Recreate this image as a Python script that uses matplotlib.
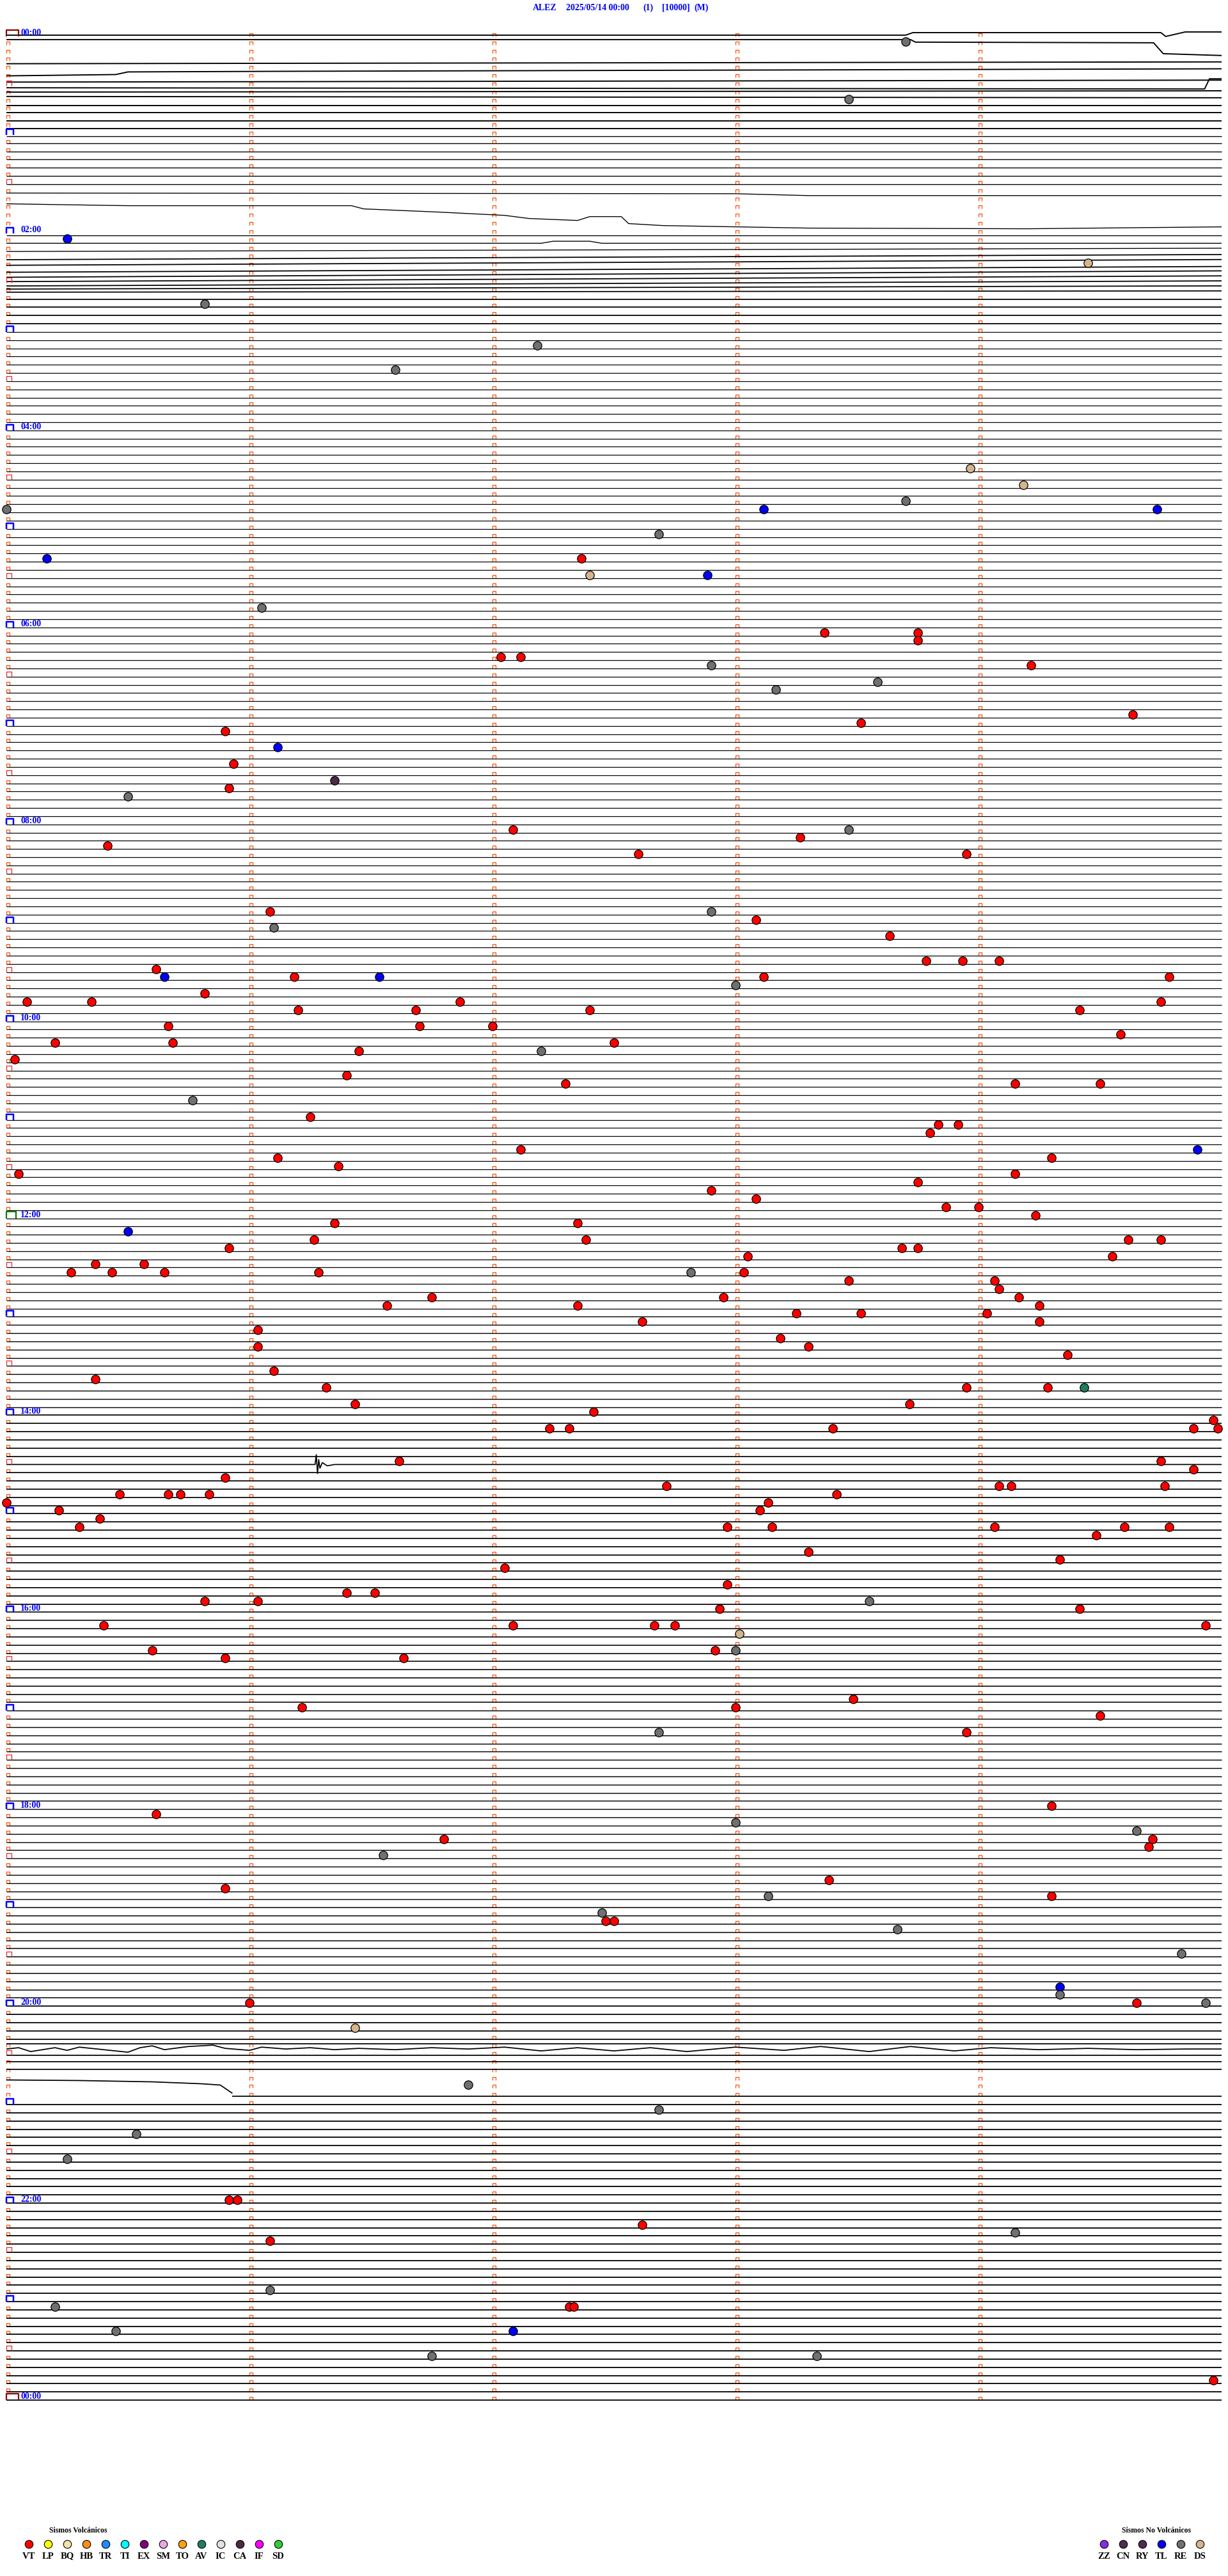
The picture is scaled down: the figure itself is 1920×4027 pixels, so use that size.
import matplotlib
matplotlib.use("Agg")
import matplotlib.pyplot as plt
from matplotlib.collections import LineCollection

# ---- chart data ----
station = "ALEZ"
start_label = "2025/05/14 00:00"
channel = "(1)"
scale = "[10000]"
comp = "(M)"

minutes_per_line = 5
n_lines = 289
hour_labels = ["00:00", "02:00", "04:00", "06:00", "08:00", "10:00", "12:00",
               "14:00", "16:00", "18:00", "20:00", "22:00", "00:00"]

# trace activity per hour (0 quiet .. 1 noisy)
hour_noise = [1.0, 0.45, 0.85, 0.3, 0.3, 0.3, 0.3, 0.3, 0.3, 0.3, 0.3, 0.3,
              0.35, 0.5, 0.8, 0.8, 0.7, 0.55, 0.5, 0.6, 0.85, 0.9, 0.9, 0.9, 0.9]

# trace drift (minute in line, offset in line spacings)
drift = {
    0: [(0, -0.16), (3.7, -0.16), (3.73, -0.47), (4.75, -0.47), (4.77, 0.0), (4.85, -0.55), (5, -0.55)],
    1: [(0, -0.62), (3.72, -0.62), (3.74, -0.31), (4.72, -0.23), (4.76, 1.1), (5, 1.32)],
    2: [(0, 1.32), (5, 1.1)],
    3: [(0, 1.8), (0.45, 1.64), (0.5, 1.32), (1.1, 1.25), (5, 0.94)],
    4: [(0, 1.56), (5, 1.32)],
    5: [(0, 1.25), (4.93, 1.4), (4.95, 0.16), (5, 0.16)],
    6: [(0, 0.78), (5, 0.62)],
    7: [(0, 0.31), (5, 0.47)],
    8: [(0, 0.39), (5, 0.39)],
    9: [(0, 0.31), (5, 0.31)],
    10: [(0, 0.31), (5, 0.31)],
    11: [(0, 0.23), (5, 0.23)],
    12: [(0, 0.16), (5, 0.16)],
    19: [(0, 0.08), (3.0, 0.16), (3.3, 0.39), (5, 0.39)],
    20: [(0, 0.39), (0.5, 0.62), (1.42, 0.62), (1.47, 1.01), (1.78, 1.4), (2.05, 1.8), (2.15, 2.18),
         (2.35, 2.42), (2.4, 1.95), (2.53, 1.95), (2.56, 2.8), (2.7, 3.04), (3.3, 3.35), (4.2, 3.43), (5, 3.2)],
    21: [(0, 3.27), (5, 3.27)],
    22: [(0, 3.2), (2.2, 3.2), (2.25, 2.95), (2.4, 2.95), (2.45, 3.2), (5, 3.2)],
    23: [(0, 3.2), (5, 2.8)],
    24: [(0, 3.2), (5, 2.57)],
    25: [(0, 2.88), (5, 2.18)],
    26: [(0, 2.73), (5, 2.03)],
    27: [(0, 2.34), (5, 1.56)],
    28: [(0, 1.87), (5, 1.17)],
    29: [(0, 1.4), (5, 0.78)],
    30: [(0, 0.78), (5, 0.39)],
    31: [(0, 0.16), (5, 0.0)],
    174: [(0, 0), (1.27, 0), (1.275, -1.2), (1.28, 1.1), (1.285, -0.6), (1.29, 0.45),
          (1.3, -0.23), (1.32, 0.16), (1.35, 0), (5, 0)],
    245: [(0, -0.39), (5, -0.39)],
    246: [(0, -0.78), (0.05, -0.94), (0.1, -0.47), (0.2, -0.94), (0.25, -0.62), (0.3, -1.01),
          (0.4, -0.7), (0.5, -0.39), (0.55, -0.94), (0.6, -1.17), (0.65, -0.7), (0.75, -1.09),
          (0.85, -1.25), (0.9, -0.86), (1.0, -0.62), (1.05, -1.01), (1.15, -0.78), (1.25, -0.94),
          (1.35, -0.7), (1.45, -0.86), (1.6, -0.7), (1.75, -0.94), (1.9, -0.78), (2.05, -1.01),
          (2.2, -0.55), (2.35, -0.94), (2.5, -0.55), (2.65, -0.94), (2.8, -0.47), (3.0, -1.01),
          (3.2, -0.62), (3.35, -1.09), (3.55, -0.47), (3.72, -1.09), (3.9, -0.55), (4.05, -0.94),
          (4.25, -0.7), (4.45, -0.86), (4.65, -0.7), (4.85, -0.78), (5, -0.78)],
    247: [(0, -1.01), (5, -1.01)],
    248: [(0, -1.25), (5, -1.25)],
    249: [(0, -1.32), (5, -1.32)],
    250: [(0, -1.01), (0.3, -0.94), (0.6, -0.78), (0.8, -0.55), (0.88, -0.39), (0.93, 0.62)],
    251: [(0.93, 0.0), (5, 0.0)],
}

# catalogued events: time, type
events = [
    ("00:08:42", "RE"), ("00:43:28", "RE"), ("02:05:15", "TL"), ("02:24:27", "DS"),
    ("02:45:49", "RE"), ("03:12:11", "RE"), ("03:26:36", "RE"), ("04:28:58", "DS"),
    ("04:39:11", "DS"), ("04:48:42", "RE"), ("04:50:00", "RE"), ("04:53:07", "TL"),
    ("04:54:44", "TL"), ("05:07:41", "RE"), ("05:20:10", "TL"), ("05:22:22", "VT"),
    ("05:32:24", "DS"), ("05:32:53", "TL"), ("05:51:03", "RE"), ("06:08:22", "VT"),
    ("06:08:45", "VT"), ("06:13:45", "VT"), ("06:22:02", "VT"), ("06:22:07", "VT"),
    ("06:27:54", "RE"), ("06:29:13", "VT"), ("06:38:35", "RE"), ("06:43:10", "RE"),
    ("06:59:38", "VT"), ("07:03:31", "VT"), ("07:05:54", "VT"), ("07:16:07", "TL"),
    ("07:25:56", "VT"), ("07:36:21", "CA"), ("07:40:55", "VT"), ("07:45:30", "RE"),
    ("08:07:05", "VT"), ("08:08:28", "RE"), ("08:13:16", "VT"), ("08:15:25", "VT"),
    ("08:22:36", "VT"), ("08:23:57", "VT"), ("08:57:54", "RE"), ("08:56:05", "VT"),
    ("09:03:05", "VT"), ("09:06:06", "RE"), ("09:13:38", "VT"), ("09:28:47", "VT"),
    ("09:28:56", "VT"), ("09:29:05", "VT"), ("09:30:37", "VT"), ("09:35:39", "TL"),
    ("09:36:11", "VT"), ("09:36:32", "TL"), ("09:38:07", "VT"), ("09:39:47", "VT"),
    ("09:43:00", "RE"), ("09:45:49", "VT"), ("09:50:05", "VT"), ("09:50:21", "VT"),
    ("09:54:45", "VT"), ("09:51:52", "VT"), ("09:56:12", "VT"), ("09:56:41", "VT"),
    ("09:57:24", "VT"), ("09:59:25", "VT"), ("10:05:40", "VT"), ("10:06:42", "VT"),
    ("10:07:00", "VT"), ("10:14:35", "VT"), ("10:15:41", "VT"), ("10:15:12", "VT"),
    ("10:17:30", "VT"), ("10:21:27", "VT"), ("10:22:12", "RE"), ("10:25:02", "VT"),
    ("10:36:24", "VT"), ("10:42:18", "VT"), ("10:44:09", "VT"), ("10:44:30", "VT"),
    ("10:50:46", "RE"), ("11:01:15", "VT"), ("11:08:50", "VT"), ("11:08:55", "VT"),
    ("11:13:48", "VT"), ("11:22:07", "VT"), ("11:24:54", "TL"), ("11:26:07", "VT"),
    ("11:29:18", "VT"), ("11:31:22", "VT"), ("11:35:03", "VT"), ("11:39:09", "VT"),
    ("11:43:45", "VT"), ("11:47:54", "VT"), ("11:53:05", "VT"), ("11:58:52", "VT"),
    ("11:59:00", "VT"), ("12:04:14", "VT"), ("12:07:21", "VT"), ("12:06:21", "VT"),
    ("12:10:30", "TL"), ("12:17:23", "VT"), ("12:19:37", "VT"), ("12:19:45", "VT"),
    ("12:16:16", "VT"), ("12:20:55", "VT"), ("12:23:41", "VT"), ("12:23:45", "VT"),
    ("12:28:03", "VT"), ("12:29:33", "VT"), ("12:30:22", "VT"), ("12:30:34", "VT"),
    ("12:35:16", "VT"), ("12:35:26", "VT"), ("12:35:39", "VT"), ("12:36:17", "VT"),
    ("12:37:49", "RE"), ("12:38:02", "VT"), ("12:43:28", "VT"), ("12:44:04", "VT"),
    ("12:49:05", "VT"), ("12:52:57", "VT"), ("12:54:10", "VT"), ("12:51:45", "VT"),
    ("12:56:34", "VT"), ("12:57:21", "VT"), ("12:59:15", "VT"), ("13:03:15", "VT"),
    ("13:03:31", "VT"), ("13:04:02", "VT"), ("13:07:37", "VT"), ("13:09:15", "VT"),
    ("13:11:02", "VT"), ("13:18:11", "VT"), ("13:23:18", "VT"), ("13:21:02", "VT"),
    ("13:29:22", "VT"), ("13:36:06", "VT"), ("13:40:22", "VT"), ("13:46:19", "VT"),
    ("13:48:57", "VT"), ("13:49:17", "VT"), ("13:49:26", "AV"), ("13:56:26", "VT"),
    ("13:58:43", "VT"), ("14:02:25", "VT"), ("14:09:58", "VT"), ("14:12:14", "VT"),
    ("14:12:19", "VT"), ("14:13:24", "VT"), ("14:14:53", "VT"), ("14:14:59", "VT"),
    ("14:31:37", "VT"), ("14:34:45", "VT"), ("14:40:54", "VT"), ("14:39:53", "VT"),
    ("14:47:43", "VT"), ("14:49:05", "VT"), ("14:49:08", "VT"), ("14:49:46", "VT"),
    ("14:55:00", "VT"), ("14:50:28", "VT"), ("14:50:40", "VT"), ("14:50:43", "VT"),
    ("14:50:50", "VT"), ("14:53:25", "VT"), ("14:58:08", "VT"), ("15:03:06", "VT"),
    ("15:00:13", "VT"), ("15:05:23", "VT"), ("15:10:18", "VT"), ("15:12:58", "VT"),
    ("15:13:09", "VT"), ("15:14:04", "VT"), ("15:14:36", "VT"), ("15:14:47", "VT"),
    ("15:19:29", "VT"), ("15:28:18", "VT"), ("15:34:20", "VT"), ("15:37:03", "VT"),
    ("15:47:58", "VT"), ("15:51:24", "VT"), ("15:51:31", "VT"), ("15:55:49", "VT"),
    ("15:56:02", "VT"), ("15:58:33", "RE"), ("16:04:25", "VT"), ("16:02:56", "VT"),
    ("16:14:56", "VT"), ("16:10:24", "VT"), ("16:12:05", "VT"), ("16:12:40", "VT"),
    ("16:12:45", "VT"), ("16:18:01", "DS"), ("16:25:36", "VT"), ("16:27:55", "VT"),
    ("16:28:00", "RE"), ("16:30:54", "VT"), ("16:31:38", "VT"), ("16:58:29", "VT"),
    ("17:01:13", "VT"), ("17:03:00", "VT"), ("17:09:30", "VT"), ("17:17:41", "RE"),
    ("17:18:57", "VT"), ("18:04:18", "VT"), ("18:05:37", "VT"), ("18:13:00", "RE"),
    ("18:19:39", "RE"), ("18:21:48", "VT"), ("18:24:43", "VT"), ("18:29:42", "VT"),
    ("18:31:33", "RE"), ("18:50:54", "VT"), ("18:48:23", "VT"), ("18:58:08", "RE"),
    ("18:59:18", "VT"), ("19:07:27", "RE"), ("19:12:28", "VT"), ("19:12:30", "VT"),
    ("19:18:40", "RE"), ("19:34:50", "RE"), ("19:54:20", "TL"), ("19:59:20", "RE"),
    ("20:01:00", "VT"), ("20:04:39", "VT"), ("20:04:56", "RE"), ("20:16:26", "DS"),
    ("20:51:54", "RE"), ("21:07:41", "RE"), ("21:20:32", "RE"), ("21:35:15", "RE"),
    ("22:00:55", "VT"), ("22:00:57", "VT"), ("22:17:37", "VT"), ("22:24:09", "RE"),
    ("22:26:05", "VT"), ("22:56:05", "RE"), ("23:05:12", "RE"), ("23:07:19", "VT"),
    ("23:07:20", "VT"), ("23:20:27", "RE"), ("23:22:05", "TL"), ("23:36:45", "RE"),
    ("23:38:20", "RE"), ("23:54:58", "VT"),
]

volc_types = ["VT", "LP", "BQ", "HB", "TR", "TI", "EX", "SM", "TO", "AV", "IC", "CA", "IF", "SD"]
volc_colors = ["#FF0000", "#FFFF00", "#F3E3A6", "#FF8A1A", "#1E8CFF", "#00FFFF", "#800080",
               "#E8A8E8", "#FFA010", "#1E7F5C", "#E2E2E2", "#4A2A48", "#FF00FF", "#33CC33"]
nonvolc_types = ["ZZ", "CN", "RY", "TL", "RE", "DS"]
nonvolc_colors = ["#8A2BE2", "#4B3050", "#502A50", "#0000FF", "#707070", "#D4B48C"]

# ---- geometry (pixels) ----
W, H, DPI = 1920, 4027, 100
X0, PX_MIN = 10, 380.0      # trace start, pixels per minute
Y0, PX_LINE = 57, 12.83     # first trace, pixels per line

fig = plt.figure(figsize=(W / DPI, H / DPI), dpi=DPI)
ax = fig.add_axes([0, 0, 1, 1])
ax.set_xlim(-X0 / PX_MIN, (W - X0) / PX_MIN)
ax.set_ylim((H - Y0) / PX_LINE, -Y0 / PX_LINE)
ax.axis("off")

px = 0.72  # one pixel in points
dx = 1 / PX_MIN
dy = 1 / PX_LINE

# traces
segs, widths = [], []
for i in range(n_lines):
    if i in drift:
        seg = [(m, i + o) for m, o in drift[i]]
    else:
        seg = [(0, i), (minutes_per_line, i)]
    segs.append(seg)
    widths.append((0.9 + 1.0 * hour_noise[i // 12]) * px)
ax.add_collection(LineCollection(segs, colors="black", linewidths=widths, zorder=2))

# minute ticks and line markers
def cap(x, y, w, h):
    return [(x, y), (x, y - h * dy), (x + w * dx, y - h * dy), (x + w * dx, y)]

small = []
for i in range(n_lines):
    for k in range(minutes_per_line):
        if k == 0 and i % 6 == 0:
            continue
        small.append(cap(k, i, 5, 5))
ax.add_collection(LineCollection(small, colors="#FF4A00", linewidths=1.2 * px, zorder=1))

half = [cap(0, i, 8, 8) for i in range(6, n_lines, 12)]
ax.add_collection(LineCollection(half, colors="#EE2020", linewidths=1.2 * px, zorder=3))

hours = [cap(0, i, 11, 9) for i in range(12, n_lines - 1, 12) if i != 144]
ax.add_collection(LineCollection(hours, colors="#0000FF", linewidths=2.5 * px, zorder=3))
ax.add_collection(LineCollection([cap(0, 144, 15, 11)], colors="#008000",
                                 linewidths=2.2 * px, zorder=3))
ax.add_collection(LineCollection([cap(0, 0, 19, 10), cap(0, n_lines - 1, 19, 10)],
                                 colors="#8B0000", linewidths=2.2 * px, zorder=3))

for j, lab in enumerate(hour_labels):
    i = j * 24
    ax.text(22 * dx, i - 5.5 * dy, lab, color="#0000FF", fontsize=10,
            fontfamily="Liberation Serif", fontweight="bold", va="center", ha="left", zorder=4)

# events
type_color = dict(zip(volc_types + nonvolc_types, volc_colors + nonvolc_colors))
for t, kind in events:
    h, m, s = (int(v) for v in t.split(":"))
    tm = h * 60 + m + s / 60.0
    line = int(tm // minutes_per_line)
    xm = tm - line * minutes_per_line
    ax.plot(xm, line - 5 * dy, "o", ms=9.6, mfc=type_color[kind], mec="black",
            mew=0.9, zorder=5)

# title
title_font = dict(color="#0000FF", fontsize=10, fontfamily="Liberation Serif",
                  fontweight="bold", va="center", ha="left")
for xp, txt in [(833, station), (885, start_label), (1005, channel), (1035, scale), (1085, comp)]:
    fig.text(xp / W, 1 - 12 / H, txt, **title_font)

# legend
leg_font = dict(fontsize=10.5, fontfamily="Liberation Serif", fontweight="bold",
                color="black", ha="center", va="center")
fig.text(122 / W, 1 - 3956 / H, "Sismos Volcánicos", fontsize=8.5,
         fontfamily="Liberation Serif", fontweight="bold", ha="center", va="center")
fig.text(1808 / W, 1 - 3956 / H, "Sismos No Volcánicos", fontsize=8.5,
         fontfamily="Liberation Serif", fontweight="bold", ha="center", va="center")
for k, (name, col) in enumerate(zip(volc_types, volc_colors)):
    xp = 45 + 30 * k
    ax.plot((xp - X0) * dx, (3977 - Y0) * dy, "o", ms=9.0, mfc=col, mec="black", mew=0.8,
            clip_on=False)
    fig.text(xp / W, 1 - 3996 / H, name, **leg_font)
for k, (name, col) in enumerate(zip(nonvolc_types, nonvolc_colors)):
    xp = 1726 + 30 * k
    ax.plot((xp - X0) * dx, (3977 - Y0) * dy, "o", ms=9.0, mfc=col, mec="black", mew=0.8,
            clip_on=False)
    fig.text(xp / W, 1 - 3996 / H, name, **leg_font)

fig.savefig("out.png", dpi=DPI)
